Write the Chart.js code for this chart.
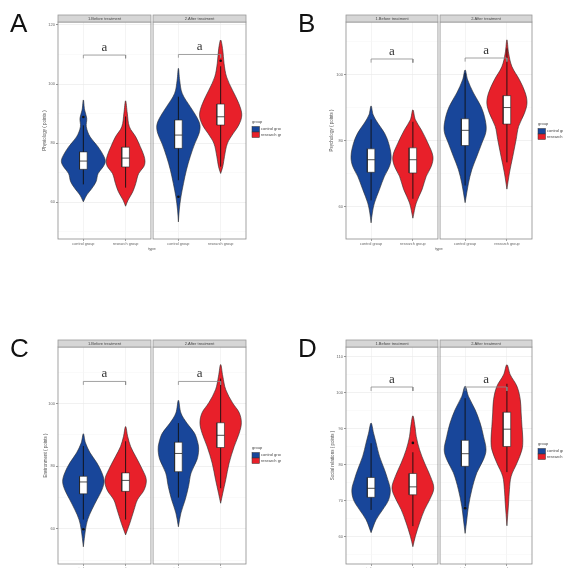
<!DOCTYPE html>
<html>
<head>
<meta charset="utf-8">
<script src="https://cdn.jsdelivr.net/npm/chart.js@4.4.0/dist/chart.umd.min.js"></script>
<style>
  body { margin: 0; background: #fff; }
  #wrap { position: relative; width: 563px; height: 568px; overflow: hidden; background: #fff; }
  canvas { position: absolute; }
  .tag { position: absolute; font-family: "Liberation Sans", Arial, sans-serif; font-size: 26px; line-height: 26px; color: #111; }
</style>
</head>
<body>
<div id="wrap">
  <canvas id="chartA" width="281" height="284" style="left:0;top:0"></canvas>
  <canvas id="chartB" width="282" height="284" style="left:281px;top:0"></canvas>
  <canvas id="chartC" width="281" height="284" style="left:0;top:284px"></canvas>
  <canvas id="chartD" width="282" height="284" style="left:281px;top:284px"></canvas>
  <div class="tag" style="left:10px;top:10px">A</div>
  <div class="tag" style="left:298px;top:10px">B</div>
  <div class="tag" style="left:10px;top:335px">C</div>
  <div class="tag" style="left:298px;top:335px">D</div>
</div>
<script>
// shared labels
const groups = ['control group', 'research group'];
const phases = ['1.Before treatment', '2.After treatment'];
const legendTitle = 'group';
const xTitle = 'type';

// violin order in every panel: before-control, before-research, after-control, after-research
// stats = [lower whisker, q1, median, q3, upper whisker]

// A - Physiology
const physTicks = [60, 80, 100, 120];
const physMinor = [50, 70, 90, 110];
const physRange = [47.5, 121];
const physY = [
  [60.1, 60.7, 62.4, 64.6, 66.9, 69.7, 72.0, 73.7, 75.4, 78.7, 82.1, 85.5, 88.4, 91.2, 94.6],
  [58.6, 60.7, 63.5, 66.3, 69.7, 72.0, 73.7, 75.9, 78.7, 82.1, 85.5, 90.1, 94.3],
  [53.3, 57.3, 61.8, 66.3, 70.9, 75.4, 79.9, 83.3, 86.1, 88.9, 92.3, 96.8, 101.3, 105.3],
  [69.7, 72.0, 75.4, 79.9, 83.3, 86.1, 89.5, 93.4, 97.9, 102.4, 107.0, 111.5, 114.9]
];
const physW = [
  [0, 0.02, 0.08, 0.20, 0.30, 0.35, 0.47, 0.52, 0.49, 0.35, 0.16, 0.07, 0.08, 0.03, 0],
  [0, 0.06, 0.17, 0.24, 0.31, 0.43, 0.46, 0.43, 0.35, 0.24, 0.09, 0.04, 0],
  [0, 0.02, 0.06, 0.12, 0.19, 0.28, 0.39, 0.49, 0.51, 0.43, 0.28, 0.09, 0.03, 0],
  [0, 0.05, 0.09, 0.16, 0.30, 0.43, 0.50, 0.43, 0.28, 0.14, 0.08, 0.05, 0]
];
const physStats = [[66.0, 71.1, 73.9, 77.0, 86.0], [64.9, 71.9, 74.9, 78.6, 89.0], [67.4, 78.2, 82.7, 87.8, 95.7], [72.0, 86.1, 88.9, 93.2, 106.0]];
const physOutliers = [[88.8], [], [61.8], [107.9]];
const physBracket = [109.8, 110.0];

// B - Psychology
const psyTicks = [60, 80, 100];
const psyMinor = [70, 90, 110];
const psyRange = [50.3, 116];
const psyY = [
  [55.2, 58.2, 61.2, 65.3, 69.3, 72.3, 75.3, 79.3, 82.4, 85.4, 87.9, 90.6],
  [56.6, 61.2, 65.3, 69.3, 72.3, 75.3, 79.3, 83.4, 86.4, 89.4],
  [61.3, 67.2, 71.3, 75.3, 79.3, 82.9, 86.4, 90.4, 94.5, 98.5, 101.5],
  [65.4, 70.3, 75.3, 80.4, 84.4, 88.4, 91.4, 94.5, 98.5, 102.5, 106.6, 110.6]
];
const psyW = [
  [0, 0.03, 0.08, 0.20, 0.32, 0.44, 0.48, 0.42, 0.32, 0.16, 0.05, 0],
  [0, 0.08, 0.22, 0.32, 0.44, 0.48, 0.36, 0.20, 0.06, 0],
  [0, 0.08, 0.16, 0.28, 0.40, 0.50, 0.48, 0.38, 0.20, 0.06, 0],
  [0, 0.06, 0.14, 0.22, 0.28, 0.42, 0.48, 0.44, 0.30, 0.12, 0.04, 0]
];
const psyStats = [[62.0, 70.5, 74.3, 77.6, 86.5], [62.5, 70.3, 74.3, 77.9, 85.8], [66.5, 78.6, 83.2, 86.7, 100.5], [73.5, 85.1, 90.1, 93.7, 108.0]];
const psyOutliers = [[], [], [], []];
const psyBracket = [104.8, 105.1];

// C - Environment
const envTicks = [60, 80, 100];
const envMinor = [50, 70, 90, 110];
const envRange = [48.8, 118.1];
const envY = [
  [54.3, 59.7, 62.9, 66.1, 69.3, 72.5, 75.2, 77.9, 81.1, 84.3, 87.5, 90.4],
  [58.1, 61.8, 66.1, 69.3, 72.5, 75.7, 78.9, 83.1, 86.3, 89.5, 92.7],
  [60.7, 65.1, 69.3, 73.6, 77.9, 82.1, 85.3, 87.5, 90.6, 93.8, 97.0, 101.1],
  [68.2, 71.4, 75.7, 81.0, 86.3, 90.6, 93.9, 97.1, 100.3, 104.5, 108.8, 112.5]
];
const envW = [
  [0, 0.05, 0.10, 0.20, 0.32, 0.44, 0.49, 0.44, 0.32, 0.16, 0.05, 0],
  [0, 0.10, 0.20, 0.28, 0.44, 0.49, 0.40, 0.24, 0.12, 0.05, 0],
  [0, 0.06, 0.16, 0.24, 0.30, 0.44, 0.48, 0.46, 0.38, 0.20, 0.06, 0],
  [0, 0.05, 0.12, 0.20, 0.32, 0.44, 0.49, 0.44, 0.28, 0.12, 0.05, 0]
];
const envStats = [[63.0, 71.2, 75.0, 76.8, 86.5], [63.0, 72.0, 75.5, 77.9, 88.0], [70.0, 78.3, 84.1, 87.7, 93.8], [73.0, 86.0, 89.9, 93.9, 108.0]];
const envOutliers = [[59.9], [], [], []];
const envBracket = [107.1, 107.1];

// D - Social relations
const socTicks = [60, 70, 80, 90, 100, 110];
const socMinor = [55, 65, 75, 85, 95, 105];
const socRange = [52.5, 112.7];
const socY = [
  [61.2, 64.8, 67.6, 70.3, 73.1, 75.9, 78.7, 82.4, 86.1, 88.8, 91.6],
  [57.3, 60.2, 63.9, 67.6, 70.3, 73.5, 76.8, 80.5, 84.2, 87.9, 90.7, 93.6],
  [61.0, 64.8, 68.5, 73.1, 77.8, 81.5, 84.2, 87.9, 91.6, 95.3, 99.0, 101.8],
  [63.1, 69.4, 73.1, 76.8, 80.5, 84.2, 87.0, 90.7, 94.4, 98.1, 101.8, 105.0, 107.8]
];
const socW = [
  [0, 0.12, 0.28, 0.42, 0.46, 0.40, 0.32, 0.20, 0.12, 0.06, 0],
  [0, 0.06, 0.16, 0.28, 0.40, 0.50, 0.42, 0.28, 0.16, 0.08, 0.05, 0],
  [0, 0.04, 0.08, 0.16, 0.28, 0.44, 0.50, 0.44, 0.36, 0.24, 0.08, 0],
  [0, 0.04, 0.06, 0.10, 0.24, 0.36, 0.38, 0.36, 0.34, 0.32, 0.24, 0.08, 0]
];
const socStats = [[67.5, 71.0, 73.5, 76.5, 86.0], [63.0, 71.7, 73.9, 77.6, 83.5], [68.5, 79.6, 83.1, 86.8, 98.5], [78.0, 85.1, 89.9, 94.6, 102.5]];
const socOutliers = [[], [86.1], [68.0], []];
const socBracket = [101.6, 101.6];

// look
const BLUE = '#18469a';
const RED = '#e8202a';
const fills = [BLUE, RED, BLUE, RED];
const xCats = [1, 2, 3.25, 4.25];
const facets = [[0.4, 2.6], [2.65, 4.85]];
const BOX = 0.09;
const DROP = 1.1;
const SANS = '"Liberation Sans", Arial, sans-serif';

function panelDatasets(ys, ws, stats, outliers, bracket) {
  const sets = [];
  for (let i = 0; i < 4; i++) {
    const cx = xCats[i];
    const pts = ys[i].map((v, k) => ({ x: cx + ws[i][k], y: v }));
    for (let k = ys[i].length - 2; k >= 0; k--) pts.push({ x: cx - ws[i][k], y: ys[i][k] });
    sets.push({ data: pts, showLine: true, fill: 'shape', backgroundColor: fills[i], borderColor: '#2a2a2a',
      borderWidth: 0.6, pointRadius: 0, tension: 0.35, order: 5 });

    const [lo, q1, med, q3, hi] = stats[i];
    sets.push({ data: [{ x: cx, y: lo }, { x: cx, y: hi }], showLine: true, borderColor: '#111',
      borderWidth: 0.9, pointRadius: 0, order: 4 });
    sets.push({ data: [{ x: cx - BOX, y: q1 }, { x: cx + BOX, y: q1 }, { x: cx + BOX, y: q3 }, { x: cx - BOX, y: q3 }, { x: cx - BOX, y: q1 }],
      showLine: true, fill: 'shape', backgroundColor: '#fff', borderColor: '#222', borderWidth: 0.6, pointRadius: 0, order: 3 });
    sets.push({ data: [{ x: cx - BOX, y: med }, { x: cx + BOX, y: med }], showLine: true, borderColor: '#222',
      borderWidth: 0.8, pointRadius: 0, order: 2 });
    if (outliers[i].length) {
      sets.push({ data: outliers[i].map(v => ({ x: cx, y: v })), pointRadius: 1.3, pointBackgroundColor: '#111',
        pointBorderWidth: 0, order: 1 });
    }
  }
  for (let f = 0; f < 2; f++) {
    const x1 = xCats[2 * f], x2 = xCats[2 * f + 1], y = bracket[f];
    sets.push({ data: [{ x: x1, y: y - DROP }, { x: x1, y: y }, { x: x2, y: y }, { x: x2, y: y - DROP }],
      showLine: true, borderColor: '#8a8a8a', borderWidth: 0.8, pointRadius: 0, order: 0 });
  }
  return sets;
}

function facetPlugin(p) {
  return {
    id: 'facet' + p.tag,
    beforeDatasetsDraw(chart) {
      const { ctx, chartArea: a, scales: { x } } = chart;
      const g1 = x.getPixelForValue(facets[0][1]), g2 = x.getPixelForValue(facets[1][0]);
      ctx.save();
      ctx.fillStyle = '#fff';
      ctx.fillRect(g1 + 0.5, a.top, g2 - g1 - 1, a.bottom - a.top);
      ctx.restore();
    },
    afterDatasetsDraw(chart) {
      const { ctx, chartArea: a, scales: { x, y } } = chart;
      ctx.save();
      facets.forEach((fr, f) => {
        const l = x.getPixelForValue(fr[0]), r = x.getPixelForValue(fr[1]);
        ctx.strokeStyle = '#8c8c8c';
        ctx.lineWidth = 0.8;
        ctx.strokeRect(l, a.top, r - l, a.bottom - a.top);
        ctx.fillStyle = '#d6d6d6';
        ctx.fillRect(l, a.top - 7, r - l, 7);
        ctx.strokeStyle = '#9a9a9a';
        ctx.strokeRect(l, a.top - 7, r - l, 7);
        ctx.fillStyle = '#444';
        ctx.font = '4px ' + SANS;
        ctx.textAlign = 'center';
        ctx.textBaseline = 'middle';
        ctx.fillText(phases[f], (l + r) / 2, a.top - 3.5);

        // significance letter
        const cx = (x.getPixelForValue(xCats[2 * f]) + x.getPixelForValue(xCats[2 * f + 1])) / 2;
        ctx.fillStyle = '#333';
        ctx.font = '13px "Liberation Serif", "DejaVu Serif", serif';
        ctx.textBaseline = 'alphabetic';
        ctx.fillText('a', cx, y.getPixelForValue(p.bracket[f]) - 4);
      });

      // legend
      const L = p.legend;
      ctx.textAlign = 'left';
      ctx.textBaseline = 'middle';
      ctx.fillStyle = '#444';
      ctx.font = '4px ' + SANS;
      ctx.fillText(legendTitle, L.x, L.y);
      groups.forEach((g, i) => {
        const ky = L.y + 4.5 + i * 5.5;
        ctx.fillStyle = i ? RED : BLUE;
        ctx.fillRect(L.x, ky, 7.5, 5.5);
        ctx.strokeStyle = '#333';
        ctx.lineWidth = 0.5;
        ctx.strokeRect(L.x, ky, 7.5, 5.5);
        ctx.fillStyle = '#444';
        ctx.fillText(g, L.x + 9, ky + 2.8);
      });
      ctx.restore();
    }
  };
}

function makePanel(p) {
  new Chart(document.getElementById('chart' + p.tag), {
    type: 'scatter',
    data: { datasets: panelDatasets(p.ys, p.ws, p.stats, p.outliers, p.bracket) },
    options: {
      responsive: false,
      animation: false,
      devicePixelRatio: 1,
      events: [],
      layout: { padding: { left: p.pad.left, top: p.pad.top, right: p.pad.right, bottom: 0 } },
      plugins: { legend: { display: false }, tooltip: { enabled: false } },
      scales: {
        x: {
          type: 'linear',
          min: facets[0][0],
          max: facets[1][1],
          afterBuildTicks: s => { s.ticks = xCats.map(v => ({ value: v })); },
          afterFit: s => { s.height = p.xHeight; },
          grid: { color: '#ececec', lineWidth: 0.6, tickLength: 2, tickColor: '#666' },
          border: { display: false },
          ticks: {
            autoSkip: false, maxRotation: 0, padding: 1,
            font: { size: 3.8, family: SANS }, color: '#666',
            callback: (v, i) => groups[i % 2]
          },
          title: { display: p.showXTitle, text: xTitle, font: { size: 4, family: SANS }, color: '#555',
            padding: { top: 0, bottom: 32.6 } }
        },
        y: {
          min: p.range[0],
          max: p.range[1],
          afterBuildTicks: s => {
            s.ticks = p.ticks.concat(p.minor).filter(v => v >= p.range[0] && v <= p.range[1])
              .sort((a, b) => a - b).map(v => ({ value: v }));
          },
          afterFit: s => { s.width = p.yWidth; },
          grid: {
            lineWidth: c => (p.ticks.includes(c.tick.value) ? 0.7 : 0.5),
            color: c => (p.ticks.includes(c.tick.value) ? '#ebebeb' : '#f4f4f4'),
            tickColor: c => (p.ticks.includes(c.tick.value) ? '#666' : 'rgba(0,0,0,0)'),
            tickLength: 2
          },
          border: { display: false },
          ticks: {
            autoSkip: false, padding: 1,
            font: { size: 4, family: SANS }, color: '#666',
            callback: v => (p.ticks.includes(v) ? String(v) : '')
          },
          title: { display: true, text: p.yTitle, font: { size: 4.5, family: SANS }, color: '#555',
            padding: { top: 0, bottom: 0 } }
        }
      }
    },
    plugins: [facetPlugin(p)]
  });
}

makePanel({ tag: 'A', yTitle: 'Physiology ( points )', ys: physY, ws: physW, stats: physStats, outliers: physOutliers,
  bracket: physBracket, ticks: physTicks, minor: physMinor, range: physRange,
  pad: { left: 42, top: 22, right: 35 }, yWidth: 16, xHeight: 45, showXTitle: true, legend: { x: 252, y: 122 } });
makePanel({ tag: 'B', yTitle: 'Psychology ( points )', ys: psyY, ws: psyW, stats: psyStats, outliers: psyOutliers,
  bracket: psyBracket, ticks: psyTicks, minor: psyMinor, range: psyRange,
  pad: { left: 48, top: 22, right: 31 }, yWidth: 17, xHeight: 45, showXTitle: true, legend: { x: 257, y: 124 } });
makePanel({ tag: 'C', yTitle: 'Environment ( points )', ys: envY, ws: envW, stats: envStats, outliers: envOutliers,
  bracket: envBracket, ticks: envTicks, minor: envMinor, range: envRange,
  pad: { left: 43, top: 63, right: 35 }, yWidth: 15, xHeight: 4, showXTitle: false, legend: { x: 252, y: 164 } });
makePanel({ tag: 'D', yTitle: 'Social relations ( points )', ys: socY, ws: socW, stats: socStats, outliers: socOutliers,
  bracket: socBracket, ticks: socTicks, minor: socMinor, range: socRange,
  pad: { left: 49, top: 63, right: 31 }, yWidth: 16, xHeight: 4, showXTitle: false, legend: { x: 257, y: 160 } });
</script>
</body>
</html>
